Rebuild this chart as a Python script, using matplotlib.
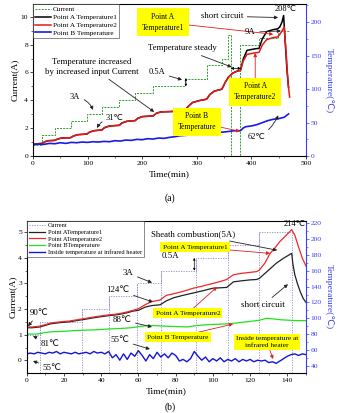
import matplotlib
matplotlib.use("Agg")
import matplotlib.pyplot as plt
from matplotlib.ticker import MultipleLocator

plt.rcParams['font.family'] = ['Liberation Serif', 'DejaVu Sans']
plt.rcParams['mathtext.default'] = 'regular'

# ---------------- panel (a) data ----------------
cur_t_a = [0, 17, 40, 69, 99, 126, 158, 187, 220, 278, 318, 346, 358, 362, 380, 414, 448, 470]
cur_i_a = [0.8, 1.5, 2.0, 2.5, 3.0, 3.5, 4.0, 4.5, 5.0, 5.5, 6.5, 7.0, 8.7, 0.0, 8.0, 8.5, 9.0, 9.0]

red_t_a = [0, 17, 22, 28, 40, 45, 52, 69, 74, 82, 99, 104, 112, 126, 131, 140, 158, 163, 172,
           187, 192, 200, 220, 226, 234, 250, 265, 278, 284, 292, 305, 318, 324, 332, 346, 352,
           358, 366, 374, 380, 385, 392, 405, 414, 420, 428, 440, 448, 452, 457, 460, 464, 467, 470]
red_T_a = [18, 19, 21.5, 23, 23.5, 25.5, 27, 27.5, 30, 32, 33, 36, 38, 39, 42.5, 45, 46, 49.5, 52,
           53, 56.5, 59, 60, 64, 66, 66.5, 67, 68, 74, 80, 83, 85, 92, 97, 100, 110,
           118, 124, 127, 128, 142, 152, 154, 155, 166, 174, 177, 178, 182, 188, 193, 150, 110, 88]

blk_t_a = [0, 17, 22, 28, 40, 45, 52, 69, 74, 82, 99, 104, 112, 126, 131, 140, 158, 163, 172,
           187, 192, 200, 220, 226, 234, 250, 265, 278, 284, 292, 305, 318, 324, 332, 346, 352,
           358, 366, 374, 380, 385, 392, 405, 414, 420, 428, 440, 448, 452, 456, 459, 462, 465, 468]
blk_T_a = [18, 19, 21.5, 23, 23.5, 25.5, 27, 27.5, 30, 32, 33, 36, 38, 39, 42.5, 45, 46, 49.5, 52,
           53, 56.5, 59, 60, 64, 66, 66.5, 67, 68, 74, 80, 83, 85, 92, 97, 100, 110,
           118, 124, 127, 128, 145, 158, 160, 161, 175, 186, 189, 190, 193, 200, 210, 170, 130, 103]

blue_t_a = [0, 10, 20, 30, 40, 50, 60, 70, 80, 90, 100, 110, 120, 130, 140, 150, 160, 170, 180,
            190, 200, 210, 220, 230, 240, 250, 260, 270, 280, 290, 300, 310, 320, 330, 340, 350,
            360, 370, 380, 385, 390, 400, 410, 420, 430, 440, 450, 460, 468]
blue_T_a = [17, 18, 17.5, 19, 18.5, 20, 19, 20.5, 20, 21, 20.5, 21.5, 21, 22, 21.5, 23, 22.5, 24, 23.5,
            25, 24.5, 26, 25.5, 27, 26.5, 28, 29, 30.5, 31, 32, 33, 33.5, 34, 35, 35.5, 36,
            37, 38, 38, 42, 44, 45, 47, 50, 53, 55, 56, 58, 63]

# ---------------- panel (b) data ----------------
cur_t_b = [0, 7, 29.5, 44, 59, 72, 91, 108, 125, 142.3]
cur_i_b = [1.0, 1.5, 2.0, 2.5, 3.0, 3.5, 4.0, 4.5, 5.0, 5.0]

red_t_b = [0, 3, 7, 10, 13, 18, 23, 28, 32, 37, 43, 47, 50, 54, 57, 60, 63.5, 67, 71.6, 75, 79, 84,
           89.5, 95, 100, 104, 107.4, 111, 116, 120, 123.5, 125, 128, 130.7, 133, 136, 139, 142.3,
           144, 146, 148, 150]
red_T_b = [89, 89, 90, 92, 94, 95.5, 96.5, 98.5, 100, 102, 104, 105, 106, 108, 110, 112, 117, 121, 123,
           129, 131, 134, 138, 141, 144, 146.5, 149, 155, 157, 158, 159, 161, 170, 182, 188, 197, 204,
           212, 205, 190, 176, 166]

blk_t_b = [0, 3, 7, 10, 13, 18, 23, 28, 32, 37, 43, 47, 50, 54, 57, 60, 63.5, 67, 71.6, 75, 79, 84,
           89.5, 95, 100, 104, 107.4, 111, 116, 120, 123.5, 125, 130, 134, 138, 142.3, 143, 144,
           145.5, 147, 148.5, 150]
blk_T_b = [88, 88, 89, 91, 93, 94.5, 95.5, 97.5, 99, 101, 103, 104, 105, 107, 109, 110, 114, 116, 117,
           122, 126, 129, 132, 135, 138, 138.5, 139, 146, 147.5, 148.5, 149, 150.5, 161, 169.5, 176,
           182, 168, 155, 143, 133, 125, 120]

grn_t_b = [0, 5, 7, 10, 14, 20, 26, 32, 38, 44, 50, 56, 62, 66, 70, 75, 80, 86, 92, 98, 104, 111,
           116, 120, 125, 129, 133, 137, 141, 145, 150]
grn_T_b = [80, 80, 80.5, 82, 83, 83.5, 84.5, 85, 85.5, 86.5, 87, 88, 90, 91, 90.5, 90, 89.5, 89, 91,
           92, 92.5, 93.5, 95, 96, 97.5, 100, 99, 98, 97.5, 97, 97]

blue_t_b = list(range(0, 151, 2))
blue_T_b = [55, 56, 55, 57, 56, 55, 57, 56, 58, 55, 57, 56, 55, 57, 55, 56, 57, 55, 58, 56,
            57, 55, 58, 50, 54, 47, 55, 48, 56, 52, 59, 53, 46, 54, 49, 57, 51, 55, 50, 56,
            53, 46, 48, 45, 49, 58, 52, 47, 51, 45, 49, 46, 50, 45, 48, 46, 49, 45, 48, 46,
            48, 45, 47, 46, 47, 44, 45, 43, 46, 49, 52, 54, 55, 53, 55, 54]

BLUE_AX = '#3c3cf0'
YELLOW = '#ffff00'


def style_twin(ax, ax2):
    ax.tick_params(labelsize=5.4, length=2, width=0.5, pad=1.5)
    ax.tick_params(which='minor', length=1.2, width=0.4)
    ax2.tick_params(labelsize=5.4, length=2, width=0.5, pad=1.5, colors=BLUE_AX)
    ax2.tick_params(which='minor', length=1.2, width=0.4, colors=BLUE_AX)
    for s in ax.spines.values():
        s.set_linewidth(0.6)
        s.set_color('#333333')
    ax2.spines['right'].set_color(BLUE_AX)
    ax2.spines['right'].set_linewidth(0.8)


def note(ax, text, xy, xytext, color='#222222', fs=6, **kw):
    ax.annotate(text, xy=xy, xytext=xytext, fontsize=fs, ha='center', va='center',
                arrowprops=dict(arrowstyle='-|>', color=color, lw=0.6, mutation_scale=5,
                                shrinkA=1, shrinkB=0, **kw))


def ybox(ax, text, xy, xytext, fs=5.5, pad=0.5):
    ax.annotate(text, xy=xy, xytext=xytext, fontsize=fs, ha='center', va='center',
                linespacing=1.5,
                bbox=dict(boxstyle='square,pad=%s' % pad, fc=YELLOW, ec='none'),
                arrowprops=dict(arrowstyle='-|>', color='#e02020', lw=0.6, mutation_scale=5,
                                shrinkA=0, shrinkB=0))


fig = plt.figure(figsize=(3.4, 4.13), dpi=100)

# ================= panel (a) =================
ax = fig.add_axes([0.097, 0.622, 0.803, 0.368])
ax2 = ax.twinx()
l0, = ax.plot(cur_t_a, cur_i_a, drawstyle='steps-post', color='#2e9e2e', ls=(0, (2, 1.2)), lw=0.7,
              label='Current')
l1, = ax2.plot(blk_t_a, blk_T_a, color='black', lw=1.1, label='Point A Temperature1')
l2, = ax2.plot(red_t_a, red_T_a, color='#e81818', lw=1.1, label='Point A Temperature2')
l3, = ax2.plot(blue_t_a, blue_T_a, color='#1a1ae0', lw=1.2, label='Point B Temperature')
ax.set_xlim(0, 500)
ax.set_ylim(0, 10.9)
ax2.set_ylim(0, 227)
ax.xaxis.set_major_locator(MultipleLocator(100))
ax.xaxis.set_minor_locator(MultipleLocator(50))
ax.yaxis.set_major_locator(MultipleLocator(2))
ax.yaxis.set_minor_locator(MultipleLocator(1))
ax2.yaxis.set_major_locator(MultipleLocator(50))
ax2.yaxis.set_minor_locator(MultipleLocator(25))
style_twin(ax, ax2)
ax.set_xlabel('Time(min)', fontsize=6.8, labelpad=3)
ax.set_ylabel('Current(A)', fontsize=6.8, labelpad=1)
ax2.set_ylabel('Temperature(℃)', fontsize=6.8, color=BLUE_AX, rotation=270, labelpad=8)
leg = ax2.legend(handles=[l0, l1, l2, l3], loc='upper left', bbox_to_anchor=(0, 1),
                 borderaxespad=0, fontsize=5.2, frameon=True, fancybox=False,
                 handlelength=2.2, handletextpad=0.3, labelspacing=0.25, borderpad=0.3)
leg.get_frame().set_edgecolor('#333333')
leg.get_frame().set_linewidth(0.5)

ybox(ax2, 'Point A\nTemperature1', xy=(440, 182), xytext=(238, 200), fs=5.5, pad=0.6)
note(ax2, 'short circuit', xy=(449, 207), xytext=(346, 209), fs=6.3)
ax2.text(462, 219, '208℃', fontsize=6, ha='center', va='center')
note(ax2, '9A', xy=(454, 187), xytext=(398, 185), fs=6.3)
note(ax2, 'Temperature steady', xy=(364, 133), xytext=(273, 161), fs=6.3)
ax2.annotate('', xy=(362, 131), xytext=(381, 131),
             arrowprops=dict(arrowstyle='<|-|>', color='black', lw=0.5, mutation_scale=4,
                             shrinkA=0, shrinkB=0))
note(ax2, 'Temperature increased\nby increased input Current', xy=(222, 66), xytext=(108, 133),
     fs=6.3)
note(ax2, '0.5A', xy=(273, 114), xytext=(227, 125), fs=6)
ax.annotate('', xy=(280, 5.0), xytext=(280, 5.6),
            arrowprops=dict(arrowstyle='<|-|>', color='black', lw=0.5, mutation_scale=3,
                            shrinkA=0, shrinkB=0))
note(ax2, '3A', xy=(110, 69), xytext=(77, 88), fs=6, connectionstyle='arc3,rad=-0.3')
note(ax2, '31℃', xy=(117, 42), xytext=(150, 57), fs=6, connectionstyle='arc3,rad=0.3')
ybox(ax2, 'Point A\nTemperature2', xy=(407, 154), xytext=(407, 96), fs=5.5, pad=0.6)
ybox(ax2, 'Point B\nTemperature', xy=(379, 37), xytext=(300, 51), fs=5.5, pad=0.6)
note(ax2, '62℃', xy=(449, 61), xytext=(410, 28), fs=6, connectionstyle='arc3,rad=0.2')

fig.text(0.5, 1 - 198 / 413, '(a)', fontsize=7, ha='center', va='center')

# ================= panel (b) =================
bx = fig.add_axes([0.0785, 0.0976, 0.8215, 0.368])
bx2 = bx.twinx()
ymin_b = -0.48
m0, = bx.plot(cur_t_b, cur_i_b, drawstyle='steps-post', color='#8a8ac8', ls=(0, (1.5, 1.5)),
              lw=0.6, label='Current')
step_tops = [max(a, b) for a, b in zip(cur_i_b[:-1], cur_i_b[1:])]
bx.vlines(cur_t_b[1:], ymin_b, step_tops, colors='#8a8ac8', linestyles=(0, (1.5, 1.5)), lw=0.6)
m1, = bx2.plot(blk_t_b, blk_T_b, color='#222222', lw=0.9, label='Point ATemperature1')
m2, = bx2.plot(red_t_b, red_T_b, color='#f02828', lw=0.9, label='Point ATemperature2')
m3, = bx2.plot(grn_t_b, grn_T_b, color='#22e022', lw=0.9, label='Point BTemperature')
m4, = bx2.plot(blue_t_b, blue_T_b, color='#1515d8', lw=1.0,
               label='Inside temperature at infrared heater')
bx.set_xlim(0, 150)
bx.set_ylim(ymin_b, 5.45)
bx2.set_ylim(31.2, 223.3)
bx.xaxis.set_major_locator(MultipleLocator(20))
bx.xaxis.set_minor_locator(MultipleLocator(10))
bx.yaxis.set_major_locator(MultipleLocator(1))
bx.yaxis.set_minor_locator(MultipleLocator(0.5))
bx2.yaxis.set_major_locator(MultipleLocator(20))
bx2.yaxis.set_minor_locator(MultipleLocator(10))
style_twin(bx, bx2)
bx.set_xlabel('Time(min)', fontsize=6.8, labelpad=3)
bx.set_ylabel('Current(A)', fontsize=6.8, labelpad=1)
bx2.set_ylabel('Temperature(℃)', fontsize=6.8, color=BLUE_AX, rotation=270, labelpad=8)
leg = bx2.legend(handles=[m0, m1, m2, m3, m4], loc='upper left', bbox_to_anchor=(0, 1),
                 borderaxespad=0, fontsize=4.6, frameon=True, fancybox=False,
                 handlelength=2.6, handletextpad=0.4, labelspacing=0.2, borderpad=0.3)
leg.get_frame().set_edgecolor('#333333')
leg.get_frame().set_linewidth(0.5)

note(bx2, 'Sheath combustion(5A)', xy=(134.5, 186), xytext=(89.4, 206.5), fs=6.3)
bx2.text(144, 219, '214℃', fontsize=6, ha='center', va='center')
ybox(bx2, 'Point A Temperature1', xy=(130.7, 182), xytext=(90.4, 190), fs=5.3, pad=0.3)
bx2.text(77, 179, '0.5A', fontsize=6.3, ha='center', va='center')
bx.annotate('', xy=(90, 3.5), xytext=(90, 4.0),
            arrowprops=dict(arrowstyle='<|-|>', color='black', lw=0.5, mutation_scale=3,
                            shrinkA=0, shrinkB=0))
note(bx2, '3A', xy=(67.3, 145), xytext=(54.4, 157), fs=6.3)
note(bx2, '124℃', xy=(67.8, 120.5), xytext=(49, 135.7), fs=6.3)
ybox(bx2, 'Point A Temperature2', xy=(102.2, 139.5), xytext=(86.6, 106.5), fs=5.3, pad=0.3)
note(bx2, 'short circuit', xy=(140.3, 143), xytext=(126.9, 116.7), fs=6.5)
note(bx2, '90℃', xy=(0.7, 90), xytext=(6.6, 106.5), fs=6.3)
note(bx2, '81℃', xy=(3.4, 77.5), xytext=(12.5, 67.4), fs=6.3)
note(bx2, '55℃', xy=(3.4, 46), xytext=(13.6, 37), fs=6.3)
note(bx2, '88℃', xy=(67.3, 89), xytext=(51.2, 97.8), fs=6.3)
note(bx2, '55℃', xy=(66.2, 61), xytext=(50, 72.4), fs=6.3)
ybox(bx2, 'Point B Temperature', xy=(110.8, 92.7), xytext=(81.3, 76.3), fs=5.3, pad=0.3)
ybox(bx2, 'Inside temperature at\ninfrared heater', xy=(132.3, 48.5), xytext=(129, 70),
     fs=5.3, pad=0.3)

fig.text(0.5, 1 - 411.5 / 413, '(b)', fontsize=7, ha='center', va='bottom')

fig.savefig('out.png', dpi=100)
